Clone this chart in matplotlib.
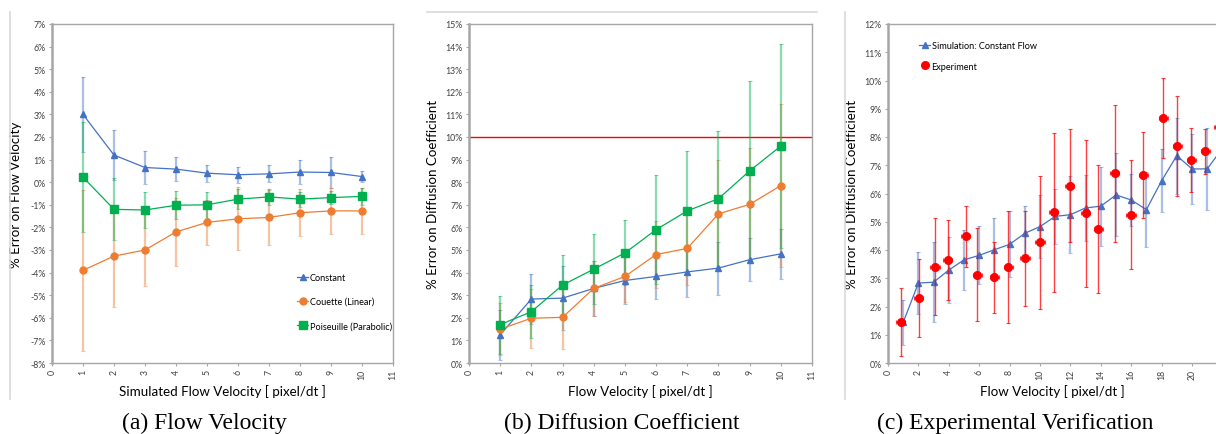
import numpy as np
import matplotlib
matplotlib.use('Agg')
import matplotlib.pyplot as plt
from matplotlib.lines import Line2D
from matplotlib.ticker import FuncFormatter, MultipleLocator

plt.rcParams['font.family'] = ['Lato', 'DejaVu Sans']

# region Data
# (a) % error on flow velocity
vel_a = [1, 2, 3, 4, 5, 6, 7, 8, 9, 10]
const_a = [3.0, 1.2, 0.65, 0.58, 0.4, 0.33, 0.37, 0.45, 0.43, 0.25]
const_a_err = [1.65, 1.1, 0.75, 0.52, 0.38, 0.35, 0.37, 0.55, 0.7, 0.26]
couette_a = [-3.9, -3.27, -3.0, -2.2, -1.78, -1.62, -1.56, -1.35, -1.27, -1.27]
couette_a_err = [3.55, 2.25, 1.6, 1.5, 1.0, 1.4, 1.23, 1.05, 1.0, 1.02]
pois_a = [0.22, -1.2, -1.23, -1.02, -1.0, -0.75, -0.65, -0.75, -0.68, -0.63]
pois_a_err = [2.43, 1.37, 0.8, 0.62, 0.58, 0.45, 0.37, 0.33, 0.3, 0.38]

# (b) % error on diffusion coefficient
vel_b = [1, 2, 3, 4, 5, 6, 7, 8, 9, 10]
const_b = [1.25, 2.83, 2.87, 3.3, 3.65, 3.83, 4.03, 4.2, 4.57, 4.83]
const_b_err = [1.1, 1.12, 1.42, 1.2, 1.05, 1.0, 1.1, 1.17, 0.95, 1.1]
couette_b = [1.5, 1.98, 2.02, 3.3, 3.83, 4.8, 5.07, 6.6, 7.02, 7.85]
couette_b_err = [1.15, 1.3, 1.4, 1.2, 1.15, 1.5, 1.6, 2.4, 2.5, 3.6]
pois_b = [1.7, 2.27, 3.45, 4.15, 4.87, 5.9, 6.73, 7.27, 8.5, 9.6]
pois_b_err = [1.28, 1.18, 1.33, 1.56, 1.44, 2.4, 2.67, 3.0, 3.96, 4.5]
threshold_b = 10.0

# (c) experimental verification
vel_sim = list(range(1, 23))
sim_c = [1.44, 2.83, 2.86, 3.29, 3.65, 3.81, 4.01, 4.2, 4.59, 4.83, 5.19,
         5.25, 5.49, 5.55, 5.95, 5.77, 5.43, 6.45, 7.34, 6.87, 6.87, 7.6]
sim_c_err = [0.8, 1.1, 1.42, 1.17, 1.06, 1.03, 1.12, 1.17, 0.96, 1.13, 0.97,
             1.37, 1.17, 1.4, 1.47, 0.93, 1.33, 1.12, 1.35, 1.24, 1.44, 1.3]
vel_exp = [0.83, 2.02, 3.09, 3.93, 5.11, 5.88, 6.99, 7.92, 9.01, 10.0, 10.9,
           11.95, 13.0, 13.84, 14.93, 15.99, 16.8, 18.1, 19.03, 19.96, 20.88, 21.75]
exp_c = [1.44, 2.3, 3.41, 3.65, 4.48, 3.13, 3.03, 3.39, 3.7, 4.27, 5.33,
         6.28, 5.3, 4.74, 6.71, 5.25, 6.65, 8.68, 7.68, 7.19, 7.5, 8.36]
exp_c_err = [1.2, 1.39, 1.72, 1.42, 1.09, 1.66, 1.25, 1.98, 1.67, 2.36, 2.81,
             2.0, 2.6, 2.27, 2.41, 1.93, 1.53, 1.41, 1.76, 1.14, 0.8, 1.0]
exp_c_xerr = 0.3

captions = ['(a) Flow Velocity', '(b) Diffusion Coefficient', '(c) Experimental Verification']
# endregion

BLUE = '#4472C4'
ORANGE = '#ED7D31'
GREEN = '#00B050'
RED = '#FF0000'
SPINE = '#A6A6A6'
TICK_FS = 6.3
LABEL_FS = 9.6
LEGEND_FS = 6.6

W, H = 1216, 435
fig = plt.figure(figsize=(W / 100, H / 100), dpi=100)


def px_axes(left, right, top, bottom):
    return fig.add_axes([left / W, 1 - bottom / H, (right - left) / W, (bottom - top) / H])


def style_axes(ax):
    for s in ax.spines.values():
        s.set_color(SPINE)
        s.set_linewidth(1.0)
    ax.spines['left'].set_linewidth(1.8)
    ax.tick_params(axis='both', colors=SPINE, labelcolor='#404040', labelsize=TICK_FS,
                   length=2.5, width=0.8, direction='out')
    ax.tick_params(axis='x', labelrotation=90, pad=2)
    ax.tick_params(axis='y', pad=2)
    ax.yaxis.set_major_formatter(FuncFormatter(lambda v, p: f'{v:.0f}%'))


def series(ax, x, y, err, color, marker, ms, label):
    ax.errorbar(x, y, yerr=err, fmt='none', ecolor=color, elinewidth=1.6,
                capsize=1.2, capthick=0.8, alpha=0.45, zorder=2)
    ax.plot(x, y, color=color, marker=marker, markersize=ms, linewidth=0.9,
            label=label, zorder=3)


# (a)
ax_a = px_axes(52, 393, 25, 364)
series(ax_a, vel_a, const_a, const_a_err, BLUE, '^', 4, 'Constant')
series(ax_a, vel_a, couette_a, couette_a_err, ORANGE, 'o', 5, 'Couette (Linear)')
series(ax_a, vel_a, pois_a, pois_a_err, GREEN, 's', 5.5, 'Poiseuille (Parabolic)')
ax_a.set_xlim(0, 11)
ax_a.set_ylim(-8, 7)
ax_a.xaxis.set_major_locator(MultipleLocator(1))
ax_a.yaxis.set_major_locator(MultipleLocator(1))
style_axes(ax_a)
ax_a.set_xlabel('Simulated Flow Velocity [ pixel/dt ]', fontsize=LABEL_FS, labelpad=3)
ax_a.set_ylabel('% Error on Flow Velocity', fontsize=LABEL_FS, labelpad=6)
ax_a.legend(frameon=False, loc='upper left', bbox_to_anchor=(0.695, 0.29),
            fontsize=LEGEND_FS, labelspacing=1.65, handlelength=1.2, handletextpad=0.15)

# (b)
ax_b = px_axes(469, 812, 25, 364)
series(ax_b, vel_b, const_b, const_b_err, BLUE, '^', 4, 'Constant')
series(ax_b, vel_b, couette_b, couette_b_err, ORANGE, 'o', 5, 'Couette (Linear)')
series(ax_b, vel_b, pois_b, pois_b_err, GREEN, 's', 5.5, 'Poiseuille (Parabolic)')
ax_b.axhline(threshold_b, color=RED, linewidth=1.0, zorder=1)
ax_b.set_xlim(0, 11)
ax_b.set_ylim(0, 15)
ax_b.xaxis.set_major_locator(MultipleLocator(1))
ax_b.yaxis.set_major_locator(MultipleLocator(1))
style_axes(ax_b)
ax_b.set_xlabel('Flow Velocity [ pixel/dt ]', fontsize=LABEL_FS, labelpad=3)
ax_b.set_ylabel('% Error on Diffusion Coefficient', fontsize=LABEL_FS, labelpad=5)

# (c)
ax_c = px_axes(888, 1216, 25, 364)
ax_c.errorbar(vel_sim, sim_c, yerr=sim_c_err, fmt='none', ecolor=BLUE, elinewidth=1.6,
              capsize=1.2, capthick=0.8, alpha=0.45, zorder=2)
ax_c.plot(vel_sim, sim_c, color=BLUE, marker='^', markersize=4, linewidth=0.9, zorder=3)
ax_c.errorbar(vel_exp, exp_c, yerr=exp_c_err, xerr=exp_c_xerr, fmt='none', ecolor=RED,
              elinewidth=1.0, capsize=1.2, capthick=0.8, alpha=0.75, zorder=4)
ax_c.plot(vel_exp, exp_c, linestyle='none', color=RED, marker='o', markersize=5.5, zorder=5)
ax_c.set_xlim(0, 328 / 15.2)
ax_c.set_ylim(0, 12)
ax_c.xaxis.set_major_locator(MultipleLocator(2))
ax_c.yaxis.set_major_locator(MultipleLocator(1))
style_axes(ax_c)
ax_c.spines['right'].set_visible(False)
ax_c.set_xlabel('Flow Velocity [ pixel/dt ]', fontsize=LABEL_FS, labelpad=3)
ax_c.set_ylabel('% Error on Diffusion Coefficient', fontsize=LABEL_FS, labelpad=5)
handles_c = [
    Line2D([], [], color=BLUE, marker='^', markersize=4, linewidth=0.9),
    Line2D([], [], color=RED, marker='o', markersize=5.5, linestyle='none'),
]
ax_c.legend(handles_c, ['Simulation: Constant Flow', 'Experiment'], frameon=False,
            loc='upper left', bbox_to_anchor=(0.07, 0.975), fontsize=LEGEND_FS,
            labelspacing=1.3, handlelength=1.2, handletextpad=0.15)

# panel border remnants
fig.add_artist(Line2D([10 / W, 10 / W], [1 - 13 / H, 1 - 400 / H], color='#D9D9D9', linewidth=1.2))
fig.add_artist(Line2D([427 / W, 817 / W], [1 - 13 / H, 1 - 13 / H], color='#D9D9D9', linewidth=1.2))
fig.add_artist(Line2D([845 / W, 845 / W], [1 - 13 / H, 1 - 400 / H], color='#D9D9D9', linewidth=1.2))

# captions
for cx, text in zip([204, 622, 1015], captions):
    fig.text(cx / W, 1 - 423 / H, text, ha='center', va='center', fontsize=17,
             family=['Liberation Serif', 'DejaVu Serif'])

fig.savefig('out.png', dpi=100)
